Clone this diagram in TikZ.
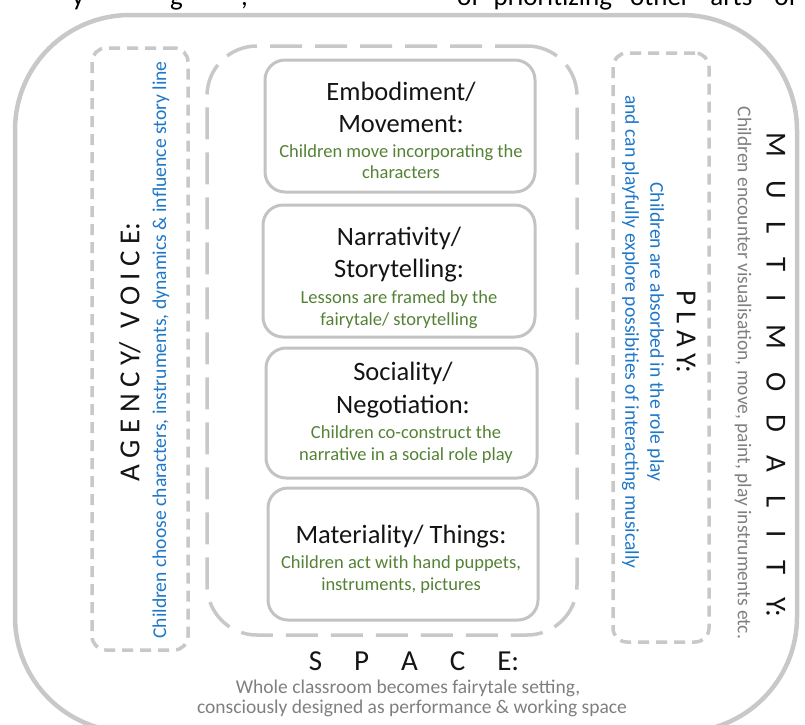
\documentclass[tikz,border=0pt]{standalone}
\usepackage{fontspec}
\setmainfont{Carlito}
\definecolor{lgray}{RGB}{200,200,200}
\definecolor{bgray}{RGB}{195,195,195}
\definecolor{tgreen}{RGB}{84,130,53}
\definecolor{tblue}{RGB}{31,119,200}
\definecolor{tgray}{RGB}{127,127,127}
\definecolor{tblack}{RGB}{20,20,20}
\begin{document}
\begin{tikzpicture}[x=1pt,y=-1pt,
  frame/.style={draw=lgray, line width=4.5pt, rounded corners=115pt, inner sep=0pt},
  sidebox/.style={draw=lgray, line width=3.5pt, dash pattern=on 11pt off 7pt, rounded corners=14pt, inner sep=0pt},
  spacebox/.style={draw=lgray, line width=3.5pt, dash pattern=on 32pt off 13pt, rounded corners=50pt, inner sep=0pt},
  ibox/.style={draw=bgray, line width=3pt, rounded corners=20pt, inner sep=0pt},
  ttl/.style={font=\fontsize{26.5}{31}\selectfont, text=tblack, anchor=base, inner sep=0pt},
  grn/.style={font=\fontsize{18.5}{22}\selectfont, text=tgreen, anchor=base, inner sep=0pt},
  big/.style={font=\fontsize{29}{35}\selectfont, text=tblack, inner sep=0pt},
  bluetxt/.style={font=\fontsize{19.6}{25}\selectfont, text=tblue, inner sep=0pt, align=center},
  graytxt/.style={font=\fontsize{19.5}{22}\selectfont, text=tgray, inner sep=0pt, align=center},
  pagetxt/.style={font=\fontsize{27}{30}\selectfont, text=black, anchor=base west, inner sep=0pt}
]
\useasboundingbox (0,0) rectangle (805,724);
\clip (0,0) rectangle (805,724);

% page text cut at the top
\node[pagetxt] (pg1) at (72,5) {y};
\node[pagetxt] (pg2) at (170,5) {g};
\node[pagetxt] (pg3) at (241,5) {,};
\node[pagetxt] (pg4) at (457,5) {of\hspace{14pt}prioritizing\hspace{18pt}other\hspace{20pt}arts\hspace{22pt}of};

% frames
\node[frame, minimum width=782pt, minimum height=717pt] (outer) at (406,373.5) {};
\node[sidebox, minimum width=96pt, minimum height=602pt] (agencybox) at (140,349) {};
\node[sidebox, minimum width=96pt, minimum height=589pt] (playbox) at (661,347.5) {};
\node[spacebox, minimum width=370pt, minimum height=589pt] (spacebox) at (392,340.5) {};

% inner boxes
\node[ibox, minimum width=270pt, minimum height=132pt] (b1) at (400,126) {};
\node[ibox, minimum width=272pt, minimum height=132pt] (b2) at (399,271) {};
\node[ibox, minimum width=271pt, minimum height=130pt] (b3) at (401.5,413) {};
\node[ibox, minimum width=270pt, minimum height=132pt] (b4) at (403,554) {};

% box texts
\node[ttl] (t1a) at (401,100) {Embodiment/};
\node[ttl] (t1b) at (401,132) {Movement:};
\node[grn] (g1a) at (401,157) {Children move incorporating the};
\node[grn] (g1b) at (401,178) {characters};

\node[ttl] (t2a) at (399,245) {Narrativity/};
\node[ttl] (t2b) at (399,277) {Storytelling:};
\node[grn] (g2a) at (399,303) {Lessons are framed by the};
\node[grn] (g2b) at (399,325) {fairytale/ storytelling};

\node[ttl] (t3a) at (403,380) {Sociality/};
\node[ttl] (t3b) at (403,413) {Negotiation:};
\node[grn] (g3a) at (406,438) {Children co-construct the};
\node[grn] (g3b) at (406,460) {narrative in a social role play};

\node[ttl] (t4a) at (401,543) {Materiality/ Things:};
\node[grn] (g4a) at (401,568) {Children act with hand puppets,};
\node[grn] (g4b) at (401,590) {instruments, pictures};

% agency / voice
\node[big, rotate=90] (agency) at (130,352) {A G E N C Y/ \ V O I C E:};
\node[bluetxt, rotate=90] (agencyt) at (161,350) {Children choose characters, instruments, dynamics \& influence story line};

% play
\node[big, rotate=-90] (play) at (686,332) {P L A Y:};
\node[bluetxt, rotate=-90] (playt) at (643,332) {Children are absorbed in the role play\\and can playfully explore possibities of interacting musically};

% multimodality
\node[big, rotate=-90] (multi) at (776,375) {M\hspace{23pt}U\hspace{23pt}L\hspace{23pt}T\hspace{23pt}I\hspace{23pt}M\hspace{23pt}O\hspace{23pt}D\hspace{23pt}A\hspace{23pt}L\hspace{23pt}I\hspace{23pt}T\hspace{23pt}Y:};
\node[graytxt, rotate=-90] (multit) at (743,373) {Children encounter visualisation, move, paint, play instruments etc.};

% space
\node[big, anchor=base] (space) at (414,670) {S\hspace{32pt}P\hspace{32pt}A\hspace{32pt}C\hspace{32pt}E:};
\node[graytxt, anchor=base] (spacet1) at (408,693) {Whole classroom becomes fairytale setting,};
\node[graytxt, anchor=base] (spacet2) at (412,713) {consciously designed as performance \& working space};
\end{tikzpicture}
\end{document}
